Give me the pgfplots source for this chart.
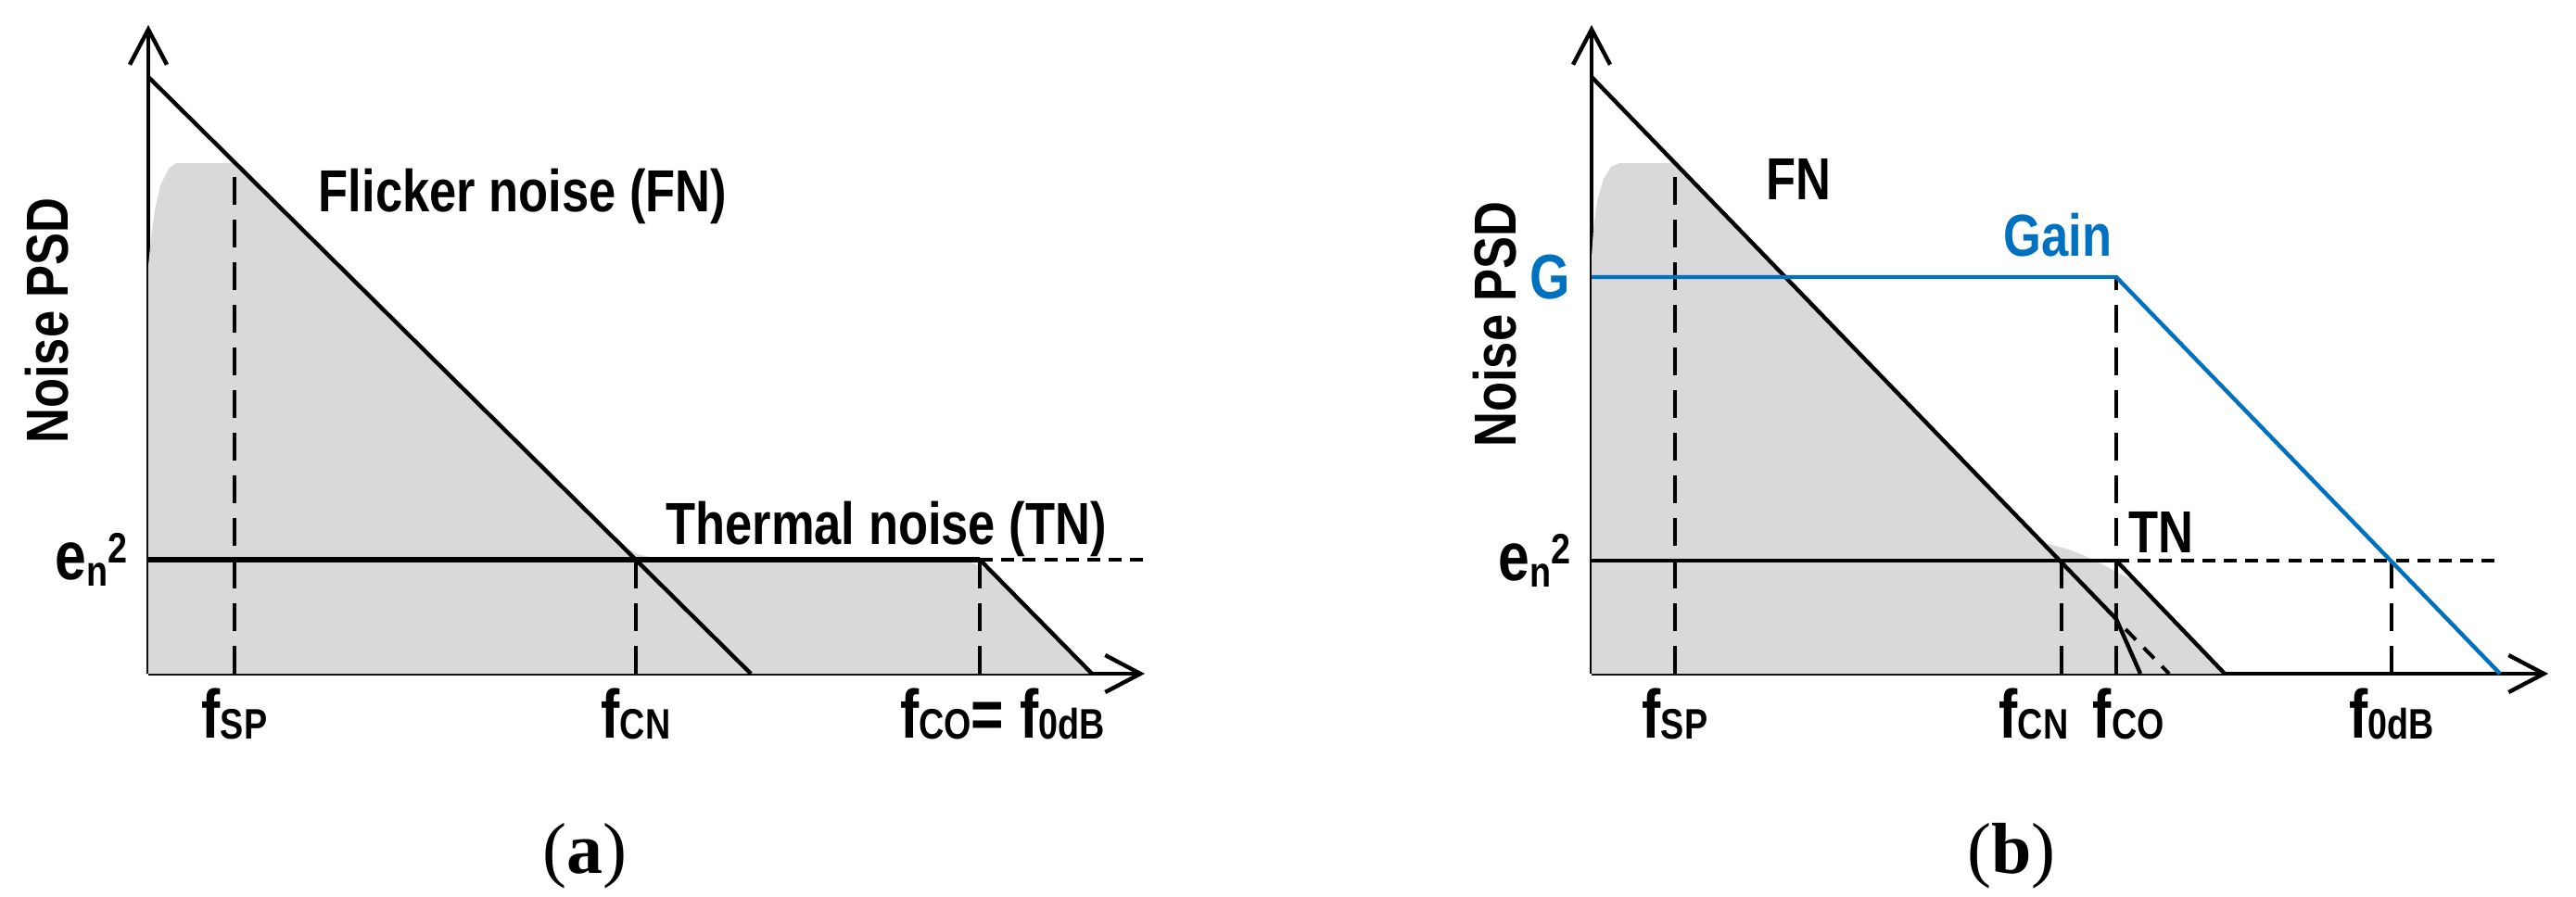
\documentclass[border=0pt]{standalone}
\usepackage{pgfplots}
\pgfplotsset{compat=1.18}
\usepackage{fontspec}
\setmainfont{Liberation Serif}
\newfontfamily\nar{Liberation Sans}[FakeStretch=0.82]
\usetikzlibrary{arrows.meta}
\definecolor{gainblue}{RGB}{0,112,192}
\definecolor{fillgray}{RGB}{217,217,217}
\newcommand\lab[2]{{\bfseries #1}\raisebox{-0.3pt}{\bfseries\fontsize{11.5}{12}\selectfont #2}}
\newcommand\ensq{{\bfseries e}\raisebox{-1.75pt}{\bfseries\fontsize{11.5}{12}\selectfont n}\raisebox{4.5pt}{\bfseries\fontsize{11.5}{12}\selectfont 2}}
\newcommand\shift[2]{\makebox[0pt]{\hspace*{#1}\hspace*{#1}#2}}
\tikzset{
  vdash/.style={black, line width=1pt, dash pattern=on 7.5pt off 4pt},
  hdash/.style={black, line width=1pt, dash pattern=on 3.5pt off 2.3pt},
  solidl/.style={black, line width=1.1pt},
  txt/.style={font=\nar\bfseries\fontsize{16}{18}\selectfont, inner sep=0pt},
}
\pgfplotsset{
  psd/.style={
    scale only axis, height=175pt,
    ymin=0, ymax=700, enlargelimits=false, clip=false,
    axis x line=bottom, axis y line=left,
    axis line style={line width=1.1pt},
    x axis line style={-{Straight Barb[length=9.5pt,width=10pt]}},
    y axis line style={-{Straight Barb[length=9.5pt,width=10pt]}},
    major tick length=0pt, tick style={draw=none},
    tick label style={font=\nar\fontsize{18.5}{20}\selectfont, inner sep=0pt},
    xticklabel style={yshift=-3.8pt},
    yticklabel style={xshift=-5.5pt},
  },
}
\begin{document}
\begin{tikzpicture}[x=1pt,y=1pt]
\path[use as bounding box] (0,0) rectangle (694.75,241.75);
% ---------------- panel (a)
\begin{axis}[psd, at={(40pt,60pt)}, anchor=south west,
  width=268.75pt, xmin=0, xmax=1075,
  xtick={93,526,897},
  xticklabels={\lab{f}{SP}, \lab{f}{CN}, \makebox[0pt][l]{\hspace*{-21.5pt}\lab{f}{CO}{\bfseries=} \lab{f}{0dB}}},
  ytick={123}, yticklabels={\ensq},
]
\addplot[fill=fillgray, draw=none] coordinates {
 (0,0) (0,440) (3,470) (7,500) (13,527) (22,545) (30,551) (93,551)
 (300,347) (505,144) (515,136) (528,129) (545,125) (560,124)
 (870,124) (885,121) (900,115) (912,108) (1018,0)};
\addplot[vdash] coordinates {(93,0) (93,551)};
\addplot[vdash] coordinates {(526,0) (526,123)};
\addplot[vdash] coordinates {(897,0) (897,123)};
\addplot[solidl] coordinates {(0,644) (650,0)};
\addplot[black, line width=1.3pt] coordinates {(0,123) (897,123)};
\addplot[hdash] coordinates {(897,123) (1080,123)};
\addplot[solidl] coordinates {(897,123) (1018,0)};
\node[txt, anchor=base west] at (axis cs:183,499) {Flicker noise (FN)};
\node[txt, anchor=base] at (axis cs:796,140) {Thermal noise (TN)};
\node[txt, rotate=90] at (axis cs:-109,381) {Noise PSD};
\node[font=\fontsize{19.5}{22}\selectfont] at (axis cs:471,-197) {(\textbf{a})};
\end{axis}
% ---------------- panel (b)
\begin{axis}[psd, at={(429.25pt,60pt)}, anchor=south west,
  width=258pt, xmin=0, xmax=1032,
  xtick={90,507,566,863},
  xticklabels={\lab{f}{SP}, \shift{-7.5pt}{\lab{f}{CN}}, \shift{3.3pt}{\lab{f}{CO}}, \lab{f}{0dB}},
  ytick={122,428}, yticklabels={\ensq, \textcolor{gainblue}{\bfseries\fontsize{17}{18}\selectfont G}},
]
\addplot[fill=fillgray, draw=none] coordinates {
 (0,0) (0,450) (2,480) (6,510) (13,534) (21,547) (30,551) (90,551)
 (486,142) (500,138) (515,134) (530,128) (543,122) (555,116) (567,109)
 (580,103) (590,98) (683,0)};
\addplot[vdash] coordinates {(90,0) (90,551)};
\addplot[vdash] coordinates {(507,0) (507,122)};
\addplot[vdash] coordinates {(566,0) (566,428)};
\addplot[vdash] coordinates {(863,0) (863,122)};
\addplot[solidl] coordinates {(0,644) (566,59)};
\addplot[solidl] coordinates {(566,59) (592,0)};
\addplot[black, line width=1pt, dash pattern=on 4pt off 3pt] coordinates {(576,48) (623,0)};
\addplot[black, line width=0.9pt] coordinates {(0,122) (566,122)};
\addplot[hdash] coordinates {(566,122) (975,122)};
\addplot[solidl] coordinates {(566,122) (683,0)};
\addplot[gainblue, line width=1.1pt] coordinates {(0,428) (566,428) (980,0)};
\node[txt, anchor=base west] at (axis cs:188,512) {FN};
\node[txt, anchor=base west, text=gainblue] at (axis cs:444,451) {Gain};
\node[txt, anchor=base west] at (axis cs:579,131) {TN};
\node[txt, rotate=90] at (axis cs:-104,377) {Noise PSD};
\node[font=\fontsize{19.5}{22}\selectfont] at (axis cs:453,-197) {(\textbf{b})};
\end{axis}
\end{tikzpicture}
\end{document}
